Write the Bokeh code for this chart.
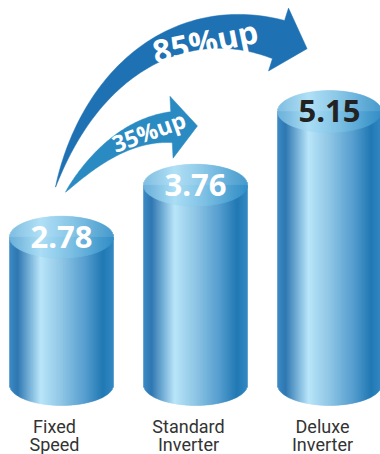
import numpy as np
from bokeh.plotting import figure
from bokeh.models import Range1d, ColumnDataSource
from bokeh.core.properties import value
from bokeh.embed import file_html
from bokeh.resources import INLINE

# ---------------- data ----------------
categories = ["Fixed\nSpeed", "Standard\nInverter", "Deluxe\nInverter"]
values = [2.78, 3.76, 5.15]
value_labels = ["2.78", "3.76", "5.15"]
arrow_labels = ["35%up", "85%up"]
arrow_from = [0, 0]
arrow_to = [1, 2]

# ---------------- layout / style ----------------
W, H = 380, 454
PX_PER_X = 134.0       # pixels per category step
PX_PER_Y = 53.0        # pixels per value unit
ORIGIN_PX = (61.0, 384.0)  # pixel of (x=0, y=0)
X0 = -ORIGIN_PX[0] / PX_PER_X
X1 = (W - ORIGIN_PX[0]) / PX_PER_X
Y0 = (ORIGIN_PX[1] - H) / PX_PER_Y
Y1 = ORIGIN_PX[1] / PX_PER_Y

BAR_W = 104 / PX_PER_X      # cylinder width in x units
RY = 21 / PX_PER_Y          # ellipse vertical radius in y units
NSTRIP = 104
BASE_SHIFT = 0.37           # renderer baseline compensation (fraction of font size)

def to_px(x, y):
    return (x - X0) / (X1 - X0) * W, (Y1 - y) / (Y1 - Y0) * H

def to_data(px, py):
    return X0 + np.asarray(px) / W * (X1 - X0), Y1 - np.asarray(py) / H * (Y1 - Y0)

def hex2rgb(h):
    h = h.lstrip("#")
    return np.array([int(h[i:i + 2], 16) for i in (0, 2, 4)], float)

def grad(stops, f):
    fs = [s[0] for s in stops]
    cs = [hex2rgb(s[1]) for s in stops]
    for k in range(len(fs) - 1):
        if fs[k] <= f <= fs[k + 1]:
            u = (f - fs[k]) / (fs[k + 1] - fs[k])
            c = cs[k] * (1 - u) + cs[k + 1] * u
            return "#%02x%02x%02x" % tuple(int(round(v)) for v in c)
    return stops[-1][1]

BODY_STOPS = [(0.0, "#2a80c0"), (0.08, "#1a6aaa"), (0.30, "#b2e3f9"), (0.50, "#84c0e2"),
              (0.72, "#4896cc"), (0.90, "#0b6cac"), (1.0, "#1f7cbd")]
TOP_STOPS = [(0.0, "#72b6de"), (0.30, "#a9ddf5"), (0.60, "#7cc0e4"), (1.0, "#3490c8")]

p = figure(width=W, height=H, x_range=Range1d(X0, X1), y_range=Range1d(Y0, Y1),
           output_backend="svg", toolbar_location=None, min_border=0,
           background_fill_color="white", border_fill_color="white")
p.axis.visible = False
p.grid.visible = False
p.outline_line_color = None

# ---------------- cylinders ----------------
body = dict(left=[], right=[], bottom=[], top=[], color=[])
cap = dict(left=[], right=[], bottom=[], top=[], color=[])
for i, v in enumerate(values):
    edges = np.linspace(i - BAR_W / 2, i + BAR_W / 2, NSTRIP + 1)
    for k in range(NSTRIP):
        l, r = edges[k], edges[k + 1]
        f = (k + 0.5) / NSTRIP
        u = 2 * f - 1
        s = np.sqrt(max(0.0, 1 - u * u))
        body["left"].append(l); body["right"].append(r)
        body["bottom"].append(-RY * s); body["top"].append(v)
        body["color"].append(grad(BODY_STOPS, f))
        cap["left"].append(l); cap["right"].append(r)
        cap["bottom"].append(v - RY * s); cap["top"].append(v + RY * s)
        cap["color"].append(grad(TOP_STOPS, f))

p.quad(left="left", right="right", bottom="bottom", top="top", source=ColumnDataSource(body),
       fill_color="color", line_color="color", line_width=0.4)
p.quad(left="left", right="right", bottom="bottom", top="top", source=ColumnDataSource(cap),
       fill_color="color", line_color="color", line_width=0.4)

# ---------------- arrows ----------------
def bez(P, t):
    t = t[:, None]
    return ((1 - t) ** 3) * P[0] + 3 * ((1 - t) ** 2) * t * P[1] + 3 * (1 - t) * t * t * P[2] + t ** 3 * P[3]

def bezd(P, t):
    t = t[:, None]
    return 3 * ((1 - t) ** 2) * (P[1] - P[0]) + 6 * (1 - t) * t * (P[2] - P[1]) + 3 * t * t * (P[3] - P[2])

def arrow_poly(P0, tan0, L0, P3, tan3, L3, shaft_w, head_w, head_len, power=0.85, n=80):
    P0 = np.array(P0, float); P3 = np.array(P3, float)
    t0 = np.array(tan0, float); t0 /= np.linalg.norm(t0)
    t3 = np.array(tan3, float); t3 /= np.linalg.norm(t3)
    P = [P0, P0 + L0 * t0, P3 - L3 * t3, P3]
    t = np.linspace(0, 1, n)
    B = bez(P, t)
    D = bezd(P, t)
    D /= np.linalg.norm(D, axis=1)[:, None]
    N = np.stack([-D[:, 1], D[:, 0]], axis=1)
    w = (shaft_w / 2) * t ** power
    left = B + N * w[:, None]
    right = B - N * w[:, None]
    n3 = np.array([-t3[1], t3[0]])
    head = [P3 + n3 * head_w / 2, P3 + t3 * head_len, P3 - n3 * head_w / 2]
    pts = np.vstack([left, head, right[::-1]])
    return pts

# arrow geometry as pixel offsets from the bars it connects
ARROW_STYLE = [
    dict(tail=(4, -45), tan0=(0.64, -0.77), L0=40, head=(-24, -58), tan3=(1, -0.05), L3=45,
         shaft_w=31, head_w=62, head_len=26, color="#2a8ac2",
         text_pos=(151, 139), angle=20, size=23),
    dict(tail=(-6, -50), tan0=(0.3, -1), L0=125, head=(-51, -72), tan3=(0.954, 0.303), L3=100,
         shaft_w=40, head_w=66, head_len=30, color="#1e71b2",
         text_pos=(207, 52), angle=11.5, size=32),
]

for a, st in enumerate(ARROW_STYLE):
    bx0, by0 = to_px(arrow_from[a], values[arrow_from[a]])
    bx1, by1 = to_px(arrow_to[a], values[arrow_to[a]])
    P0 = (bx0 + st["tail"][0], by0 + st["tail"][1])
    P3 = (bx1 + st["head"][0], by1 + st["head"][1])
    pts = arrow_poly(P0, st["tan0"], st["L0"], P3, st["tan3"], st["L3"],
                     st["shaft_w"], st["head_w"], st["head_len"])
    xs, ys = to_data(pts[:, 0], pts[:, 1])
    p.patch(list(xs), list(ys), fill_color=st["color"], line_color=st["color"], line_width=0.5)
    ang = np.radians(st["angle"])
    sh = BASE_SHIFT * st["size"]
    # shift perpendicular to the rotated baseline (upwards on screen)
    tpx = st["text_pos"][0] - sh * np.sin(ang)
    tpy = st["text_pos"][1] - sh * np.cos(ang)
    tx, ty = to_data(tpx, tpy)
    p.text(x=[float(tx)], y=[float(ty)], text=[arrow_labels[a]], angle=ang,
           text_font=value("Open Sans"), text_font_style="bold", text_font_size="%dpx" % st["size"],
           text_color="white", text_align="center", text_baseline="alphabetic")

# ---------------- value labels ----------------
xs = list(range(len(values)))
VSIZE = 31
p.text(x=xs, y=[v - (11 - BASE_SHIFT * VSIZE) / PX_PER_Y for v in values], text=value_labels,
       text_font=value("Open Sans"), text_font_style="bold", text_font_size="%dpx" % VSIZE,
       text_color=["white", "white", "#222222"], text_align="center", text_baseline="alphabetic")

# ---------------- category labels ----------------
LSIZE = 18
line1 = [c.split("\n")[0] for c in categories]
line2 = [c.split("\n")[1] for c in categories]
lx = [i - 7 / PX_PER_X for i in xs]
p.text(x=lx, y=[-(49 - BASE_SHIFT * LSIZE) / PX_PER_Y] * 3, text=line1,
       text_font=value("Roboto"), text_font_size="%dpx" % LSIZE,
       text_color="#333333", text_align="center", text_baseline="alphabetic")
p.text(x=lx, y=[-(67 - BASE_SHIFT * LSIZE) / PX_PER_Y] * 3, text=line2,
       text_font=value("Roboto"), text_font_size="%dpx" % LSIZE,
       text_color="#333333", text_align="center", text_baseline="alphabetic")

open("out.html", "w").write(file_html(p, INLINE))
